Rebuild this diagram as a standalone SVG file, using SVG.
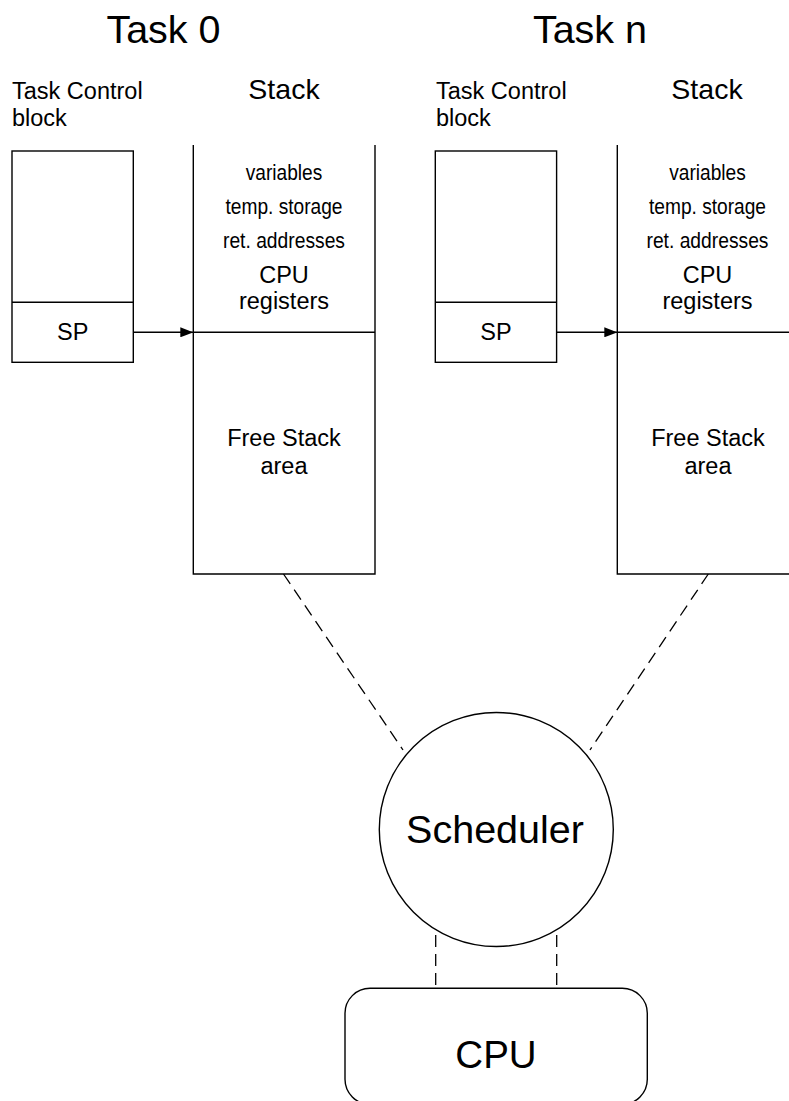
<svg xmlns="http://www.w3.org/2000/svg" width="789" height="1101" viewBox="0 0 789 1101">
<defs>
<style>
.ln{stroke:#000;stroke-width:1.4;fill:none}
.bx{stroke:#000;stroke-width:1.4;fill:#fff}
.dash{stroke:#000;stroke-width:1.3;fill:none;stroke-dasharray:12 7}
text{font-family:"Liberation Sans",Arial,sans-serif;fill:#000}
.title{font-size:39.5px;text-anchor:middle}
.hdr{font-size:23.5px}
.stk{font-size:28.5px;text-anchor:middle}
.nar{font-size:22px;text-anchor:middle}
.reg{font-size:23.5px;text-anchor:middle}
.big{font-size:39.5px;text-anchor:middle}
</style>
<marker id="arr" markerWidth="13" markerHeight="10" refX="13" refY="5" orient="auto" markerUnits="userSpaceOnUse">
<path d="M0,0 L13,5 L0,10 Z" fill="#000"/>
</marker>
</defs>
<rect width="789" height="1101" fill="#fff"/>

<g id="task0">
<text class="title" x="163.5" y="42.7">Task 0</text>
<g id="tcb0">
<text class="hdr" x="12" y="99.3">Task Control</text>
<text class="hdr" x="12" y="126">block</text>
<rect class="bx" x="12" y="151" width="121.3" height="211.3"/>
<line class="ln" x1="12" y1="302.3" x2="133.3" y2="302.3"/>
<text class="reg" x="72.7" y="340">SP</text>
</g>
<g id="stack0">
<text class="stk" x="284" y="99.3">Stack</text>
<path class="ln" d="M193.3,145 V574 H375 V145 M193.3,332.3 H375"/>
<text class="nar" x="284" y="180" textLength="76.5" lengthAdjust="spacingAndGlyphs">variables</text>
<text class="nar" x="284" y="214" textLength="117" lengthAdjust="spacingAndGlyphs">temp. storage</text>
<text class="nar" x="284" y="248.3" textLength="122" lengthAdjust="spacingAndGlyphs">ret. addresses</text>
<text class="reg" x="284" y="282.8">CPU</text>
<text class="reg" x="284" y="308.5">registers</text>
<text class="reg" x="284" y="445.7">Free Stack</text>
<text class="reg" x="284" y="474">area</text>
</g>
</g>

<g id="taskn">
<text class="title" x="590" y="42.7">Task n</text>
<g id="tcbn">
<text class="hdr" x="436" y="99.3">Task Control</text>
<text class="hdr" x="436" y="126">block</text>
<rect class="bx" x="435.3" y="151" width="121.3" height="211.3"/>
<line class="ln" x1="435.3" y1="302.3" x2="556.6" y2="302.3"/>
<text class="reg" x="496" y="340">SP</text>
</g>
<g id="stackn">
<text class="stk" x="707" y="99.3">Stack</text>
<path class="ln" d="M617.3,145 V574 H800 M617.3,332.3 H800"/>
<text class="nar" x="707.5" y="180" textLength="76.5" lengthAdjust="spacingAndGlyphs">variables</text>
<text class="nar" x="707.5" y="214" textLength="117" lengthAdjust="spacingAndGlyphs">temp. storage</text>
<text class="nar" x="707.5" y="248.3" textLength="122" lengthAdjust="spacingAndGlyphs">ret. addresses</text>
<text class="reg" x="707.5" y="282.8">CPU</text>
<text class="reg" x="707.5" y="308.5">registers</text>
<text class="reg" x="708" y="445.7">Free Stack</text>
<text class="reg" x="708" y="474">area</text>
</g>
</g>

<g id="scheduler">
<circle class="bx" cx="496.3" cy="829.5" r="117"/>
<text class="big" x="495" y="842.7">Scheduler</text>
</g>

<g id="cpu">
<rect class="bx" x="345" y="988.3" width="302.3" height="116" rx="25" ry="25"/>
<text class="big" x="496" y="1068.3" style="font-size:38.5px">CPU</text>
</g>

<g id="connectors">
<line class="ln" x1="133.3" y1="332.3" x2="193.3" y2="332.3" marker-end="url(#arr)"/>
<line class="ln" x1="556.6" y1="332.3" x2="617.3" y2="332.3" marker-end="url(#arr)"/>
<line class="dash" x1="283.5" y1="574" x2="403" y2="750"/>
<line class="dash" x1="708.3" y1="574" x2="590" y2="750"/>
<line class="dash" x1="435.7" y1="935" x2="435.7" y2="988.3"/>
<line class="dash" x1="556.7" y1="935" x2="556.7" y2="988.3"/>
</g>
</svg>
